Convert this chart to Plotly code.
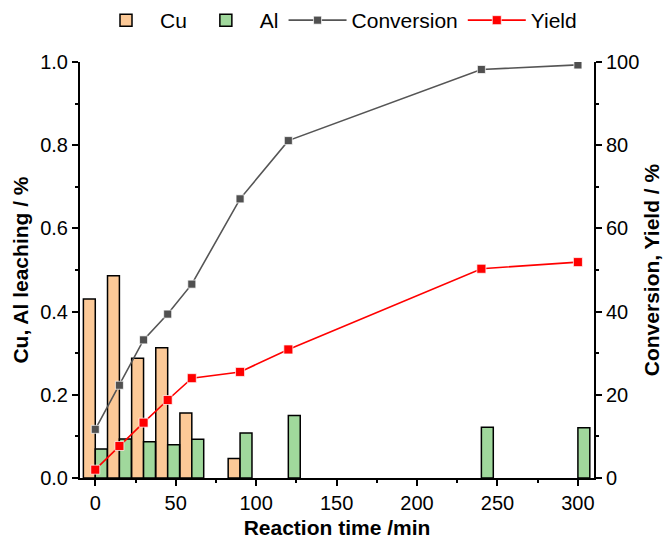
import plotly.graph_objects as go

# Sampling times (min)
times = [0, 15, 30, 45, 60, 90, 120, 240, 300]

# Metal leaching (%) – left axis
cu_leach = [0.430, 0.486, 0.288, 0.313, 0.156, 0.047, None, None, None]
al_leach = [0.070, 0.094, 0.087, 0.080, 0.093, 0.108, 0.150, 0.122, 0.121]

# Conversion and yield (%) – right axis
conversion = [11.7, 22.3, 33.2, 39.4, 46.6, 67.1, 81.1, 98.2, 99.3]
yield_pct = [2.0, 7.7, 13.3, 18.75, 24.0, 25.5, 30.9, 50.3, 51.9]

FONT = "Liberation Sans, Arial, sans-serif"
TICK_SIZE = 20
TITLE_SIZE = 21
BAR_W = 7.4

fig = go.Figure()

fig.add_trace(go.Bar(
    x=times, y=cu_leach, name="Cu",
    width=BAR_W, offset=-BAR_W,
    marker=dict(color="#FCC997", line=dict(color="black", width=1.5)),
))
fig.add_trace(go.Bar(
    x=times, y=al_leach, name="Al",
    width=BAR_W, offset=0,
    marker=dict(color="#A0D89C", line=dict(color="black", width=1.5)),
))
fig.add_trace(go.Scatter(
    x=times, y=conversion, name="Conversion", yaxis="y2",
    mode="lines+markers",
    line=dict(color="#555555", width=1.6),
    marker=dict(symbol="square", size=8, color="#505050",
                line=dict(color="rgba(255,255,255,0.7)", width=1)),
))
fig.add_trace(go.Scatter(
    x=times, y=yield_pct, name="Yield", yaxis="y2",
    mode="lines+markers",
    line=dict(color="#FF0000", width=1.6),
    marker=dict(symbol="square", size=9, color="#FF0000",
                line=dict(color="rgba(255,255,255,0.7)", width=1)),
))

axis_common = dict(
    showline=True, linecolor="black", linewidth=2,
    ticks="outside", ticklen=6, tickwidth=2, tickcolor="black",
    showgrid=False, zeroline=False, mirror=False, automargin=False,
    tickfont=dict(family=FONT, size=TICK_SIZE, color="black"),
)
minor_common = dict(ticklen=3, tickwidth=2, tickcolor="black", ticks="outside", tick0=0)

fig.update_layout(
    width=667, height=540,
    margin=dict(l=80, r=73, t=62, b=62),
    paper_bgcolor="white", plot_bgcolor="white",
    barmode="overlay",
    font=dict(family=FONT, size=TICK_SIZE, color="black"),
    xaxis=dict(
        range=[-9.5, 310], tickvals=[0, 50, 100, 150, 200, 250, 300],
        minor=dict(dtick=25, **minor_common),
        title=dict(text="<b>Reaction time /min</b>",
                   font=dict(family=FONT, size=TITLE_SIZE), standoff=7),
        **axis_common,
    ),
    yaxis=dict(
        range=[0, 1.0], tickvals=[0, 0.2, 0.4, 0.6, 0.8, 1.0], tickformat=".1f",
        minor=dict(dtick=0.1, **minor_common),
        title=dict(text="<b>Cu, Al leaching / %</b>",
                   font=dict(family=FONT, size=TITLE_SIZE), standoff=6),
        **axis_common,
    ),
    yaxis2=dict(
        range=[0, 100], tickvals=[0, 20, 40, 60, 80, 100],
        overlaying="y", side="right", anchor="x",
        minor=dict(dtick=10, **minor_common),
        title=dict(text="<b>Conversion, Yield / %</b>",
                   font=dict(family=FONT, size=TITLE_SIZE), standoff=6),
        **axis_common,
    ),
    legend=dict(
        orientation="h", x=0.5, xanchor="center",
        yref="container", y=0.962, yanchor="middle",
        font=dict(family=FONT, size=21),
        bgcolor="rgba(0,0,0,0)", itemwidth=58, tracegroupgap=0,
    ),
    showlegend=True,
)

fig.write_html("out.html")
